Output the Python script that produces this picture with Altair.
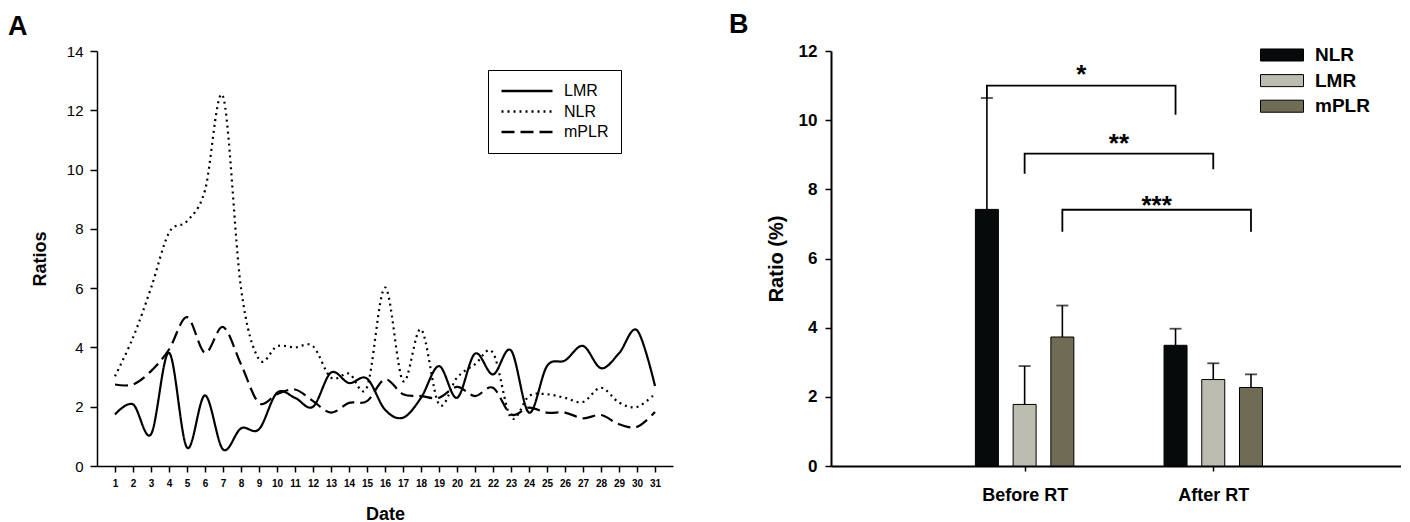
import altair as alt
import pandas as pd

# ---------------- Panel A data ----------------
dates = list(range(1, 32))
lmr = [1.74, 2.08, 1.07, 3.82, 0.62, 2.38, 0.56, 1.27, 1.24, 2.47, 2.30, 2.00, 3.15, 2.80, 2.95,
       1.90, 1.63, 2.30, 3.37, 2.30, 3.79, 3.09, 3.90, 1.80, 3.37, 3.56, 4.05, 3.30, 3.80, 4.58, 2.70]
nlr = [3.03, 4.33, 6.00, 7.87, 8.26, 9.30, 12.47, 6.00, 3.60, 4.04, 4.00, 4.04, 2.98, 3.12, 2.66,
       6.02, 2.87, 4.61, 2.08, 2.98, 3.43, 3.82, 1.63, 2.36, 2.42, 2.30, 2.16, 2.64, 2.14, 1.99, 2.44]
mplr = [2.75, 2.75, 3.20, 3.93, 5.02, 3.82, 4.69, 3.43, 2.13, 2.42, 2.58, 2.19, 1.80, 2.13, 2.19,
        2.92, 2.42, 2.36, 2.30, 2.67, 2.36, 2.64, 1.74, 1.97, 1.80, 1.80, 1.61, 1.72, 1.41, 1.32, 1.82]
line_series = ["LMR", "NLR", "mPLR"]
y_ticks_a = [0, 2, 4, 6, 8, 10, 12, 14]

# ---------------- Panel B data ----------------
groups = ["Before RT", "After RT"]
bar_series = ["NLR", "LMR", "mPLR"]
mean_before = [7.42, 1.78, 3.73]
mean_after = [3.49, 2.50, 2.27]
upper_before = [10.64, 2.89, 4.64]
upper_after = [3.97, 2.97, 2.65]
bar_colors = ["#070a0a", "#bcbdb0", "#6f6b55"]
y_ticks_b = [0, 2, 4, 6, 8, 10, 12]

sig_labels = ["*", "**", "***"]
sig_series = ["NLR", "LMR", "mPLR"]
sig_top = [11.0, 9.03, 7.41]
sig_left = [10.64, 8.45, 6.77]
sig_right = [10.16, 8.58, 6.77]
sig_label_y = [11.51, 9.52, 7.73]

FONT = "Liberation Sans"
H = 415
W_A = 576
W_B = 570
B_MAX = 3 * W_B / 576  # keep the 3-slot spacing of the bar panel

# ---------------- Panel A ----------------
df_lines = pd.DataFrame({
    "Date": dates * 3,
    "Ratio": lmr + nlr + mplr,
    "Series": [line_series[0]] * 31 + [line_series[1]] * 31 + [line_series[2]] * 31,
})

chart_a = alt.Chart(df_lines).mark_line(
    interpolate="cardinal", color="black", strokeWidth=2.2
).encode(
    x=alt.X("Date:Q", scale=alt.Scale(domain=[0, 32], nice=False, zero=False),
            axis=alt.Axis(values=dates, title="Date", labelFontSize=10, labelFontWeight="bold",
                          labelPadding=6, tickSize=6, titleFontSize=18, titleFontWeight="bold",
                          titlePadding=17, labelFlush=False, labelOverlap=False)),
    y=alt.Y("Ratio:Q", scale=alt.Scale(domain=[0, 14], nice=False),
            axis=alt.Axis(values=y_ticks_a, title="Ratios", labelFontSize=15, labelFontWeight="normal",
                          labelPadding=7, tickSize=7, titleFontSize=18, titleFontWeight="bold",
                          titlePadding=17)),
    strokeDash=alt.StrokeDash(
        "Series:N",
        scale=alt.Scale(domain=line_series, range=[[1, 0], [2, 4], [13, 6]]),
        legend=alt.Legend(
            title=None, orient="none", legendX=391, legendY=19,
            symbolType="stroke", symbolSize=2601, symbolStrokeWidth=2.5,
            symbolStrokeColor="black", clipHeight=18, rowPadding=2.5,
            labelFontSize=16, labelOffset=10, padding=12,
            strokeColor="black", fillColor="white", labelFont=FONT,
        ),
    ),
    detail="Series:N",
).properties(
    width=W_A, height=H,
    title=alt.TitleParams("A", anchor="start", frame="group", fontSize=27, fontWeight="bold",
                          dx=-89, offset=3, font=FONT, color="black"),
)

# ---------------- Panel B ----------------
rows = []
for gi, (g, means, ups) in enumerate(zip(groups, [mean_before, mean_after], [upper_before, upper_after])):
    for si, s in enumerate(bar_series):
        rows.append({"Group": g, "gi": gi + 1, "Series": s, "si": si, "Mean": means[si], "Upper": ups[si]})
df_bars = pd.DataFrame(rows)

pos_expr = "datum.gi + (datum.si - 1) * 0.2"
x_scale_b = alt.Scale(domain=[0, B_MAX], nice=False, zero=False)
label_expr = "[" + ",".join("'" + g + "'" for g in groups) + "][datum.value - 1]"
x_axis_b = alt.Axis(values=[1, 2], labelExpr=label_expr, title=None, labelFontSize=18,
                    labelFontWeight="bold", tickSize=5, labelPadding=15, domainWidth=2)

base_b = alt.Chart(df_bars).transform_calculate(pos=pos_expr)

bars = base_b.mark_bar(size=23, stroke="black", strokeWidth=1).encode(
    x=alt.X("pos:Q", scale=x_scale_b, axis=x_axis_b),
    y=alt.Y("Mean:Q", scale=alt.Scale(domain=[0, 12], nice=False),
            axis=alt.Axis(values=y_ticks_b, title="Ratio (%)", labelFontSize=17, labelFontWeight="bold",
                          labelPadding=8, tickSize=6, titleFontSize=20, titleFontWeight="bold",
                          titlePadding=12, domainWidth=2)),
    color=alt.Color("Series:N", scale=alt.Scale(domain=bar_series, range=bar_colors),
                    legend=alt.Legend(
                        title=None, orient="none", legendX=429, legendY=-5,
                        symbolType="M-1,-0.28H1V0.28H-1Z", symbolSize=1849,
                        symbolStrokeColor="black", symbolStrokeWidth=1, symbolOpacity=1,
                        clipHeight=18, rowPadding=6.6, labelFontSize=19, labelFontWeight="bold",
                        labelOffset=11, padding=0, labelFont=FONT,
                    )),
)

err_rule = base_b.mark_rule(color="black", strokeWidth=1.6).encode(
    x="pos:Q", y="Mean:Q", y2="Upper:Q"
)
err_cap = base_b.mark_tick(color="black", thickness=1.8, size=12, orient="horizontal").encode(
    x="pos:Q", y="Upper:Q"
)

brk_rows = []
for lab, s, top, lb, rb in zip(sig_labels, sig_series, sig_top, sig_left, sig_right):
    si = bar_series.index(s)
    brk_rows += [
        {"id": lab, "order": 0, "gi": 1, "si": si, "y": lb},
        {"id": lab, "order": 1, "gi": 1, "si": si, "y": top},
        {"id": lab, "order": 2, "gi": 2, "si": si, "y": top},
        {"id": lab, "order": 3, "gi": 2, "si": si, "y": rb},
    ]
df_brk = pd.DataFrame(brk_rows)

brackets = alt.Chart(df_brk).transform_calculate(pos=pos_expr).mark_line(
    color="black", strokeWidth=1.8
).encode(
    x="pos:Q", y="y:Q", detail="id:N", order="order:Q"
)

df_sig = pd.DataFrame({
    "label": sig_labels,
    "gi": [1.5] * len(sig_labels),
    "si": [bar_series.index(s) for s in sig_series],
    "y": sig_label_y,
})
sig_text = alt.Chart(df_sig).transform_calculate(pos=pos_expr).mark_text(
    fontSize=26, fontWeight="bold", color="black", baseline="middle", align="center", dy=7, font=FONT
).encode(
    x="pos:Q", y="y:Q", text="label:N"
)

chart_b = alt.layer(bars, err_rule, err_cap, brackets, sig_text).properties(
    width=W_B, height=H,
    title=alt.TitleParams("B", anchor="start", frame="group", fontSize=27, fontWeight="bold",
                          dx=-102, offset=3, font=FONT, color="black"),
)

chart = alt.hconcat(chart_a, chart_b, spacing=158, bounds="flush").resolve_legend(
    color="independent", strokeDash="independent"
).resolve_scale(color="independent", strokeDash="independent").properties(
    padding={"left": 0, "top": 3, "right": 0, "bottom": 0}
).configure_view(stroke=None).configure_axis(
    grid=False, domainColor="black", tickColor="black", labelColor="black", titleColor="black",
    labelFont=FONT, titleFont=FONT, domainWidth=1.5, tickWidth=1.5
).configure_legend(labelColor="black").configure_text(font=FONT)

chart.save("out.html", embed_options={"renderer": "svg", "actions": False})
